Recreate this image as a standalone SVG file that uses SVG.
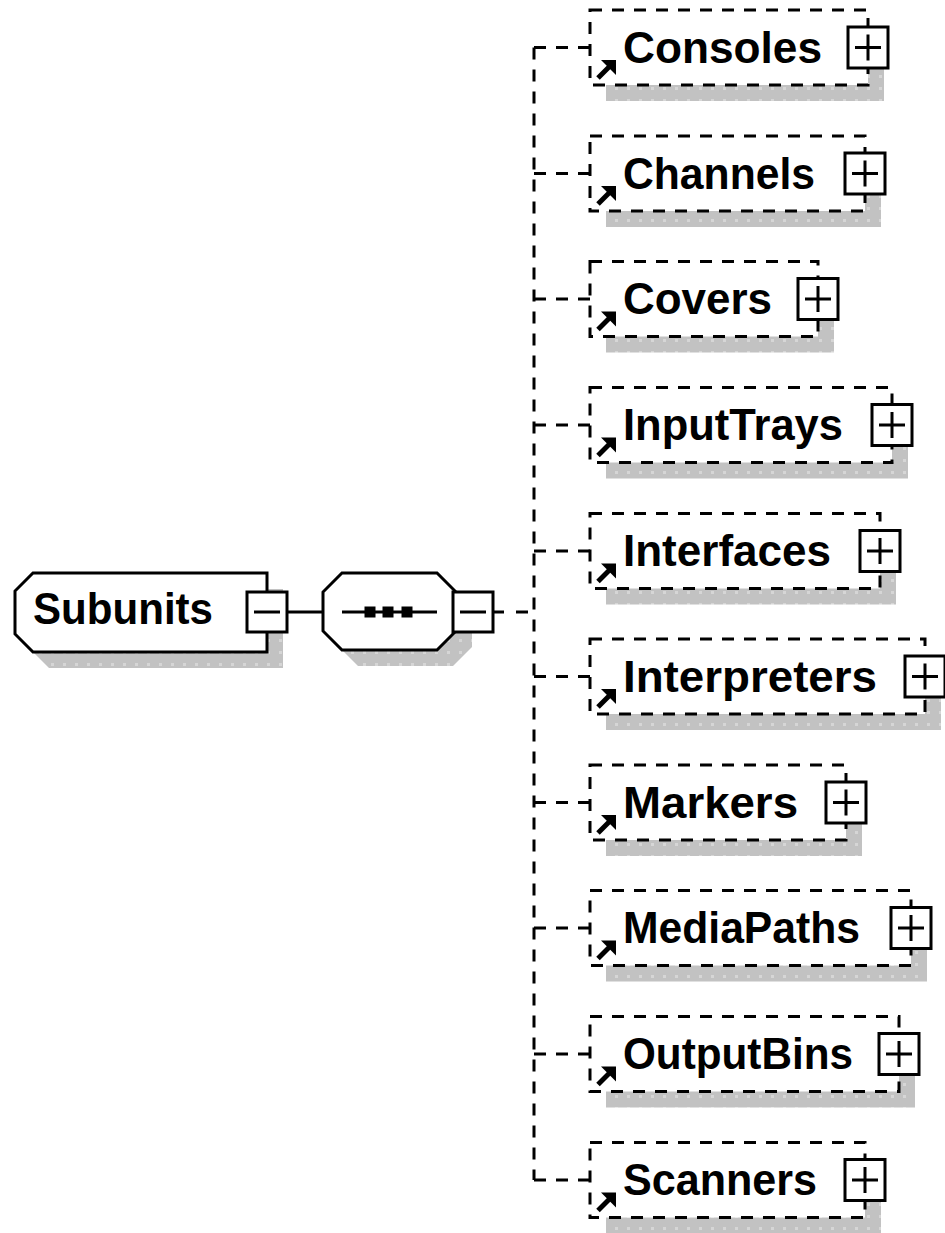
<svg xmlns="http://www.w3.org/2000/svg" xmlns:xlink="http://www.w3.org/1999/xlink" width="945" height="1233" viewBox="0 0 945 1233">
<style>
.shadow{fill:url(#dots);stroke:none}
.solid{fill:#fff;stroke:#000;stroke-width:3}
.opt{fill:#fff;stroke:#000;stroke-width:3;stroke-dasharray:12 10}
.conn{fill:none;stroke:#000;stroke-width:3}
.dash{fill:none;stroke:#000;stroke-width:3;stroke-dasharray:12 10}
.lbl{font-family:"Liberation Sans",Arial,sans-serif;font-weight:bold;font-size:44px;fill:#000}
</style>
<defs>
<pattern id="dots" patternUnits="userSpaceOnUse" width="12" height="12">
<rect width="12" height="12" fill="#c2c2c2"/>
<rect x="3" y="3" width="3" height="3" fill="#d6d6d6"/>
</pattern>
<g id="plus">
<rect x="-20" y="-20.5" width="40" height="41" fill="#fff" stroke="#000" stroke-width="3"/>
<path d="M-13 0H13M0 -13V13" stroke="#000" stroke-width="3"/>
</g>
<g id="minus">
<rect x="-20" y="-20" width="40" height="40" fill="#fff" stroke="#000" stroke-width="3"/>
<path d="M-13 0H13" stroke="#000" stroke-width="3"/>
</g>
<g id="refArrow">
<path d="M8 -7L20 -19" stroke="#000" stroke-width="5"/>
<polygon points="11,-25 26,-25 26,-10" fill="#000"/>
</g>
</defs>
<rect width="945" height="1233" fill="#fff"/>

<g id="connectors">
<path class="conn" d="M287 612H323"/>
<path class="conn" d="M493 612H504"/>
<path class="dash" d="M516 612H534"/>
<path class="dash" d="M534 47.5V1180"/>
<path class="dash" d="M534 47.5H590M534 173.5H590M534 299H590M534 425H590M534 551H590M534 676.5H590M534 802.5H590M534 928H590M534 1054H590M534 1180H590"/>
</g>

<g id="node-subunits">
<polygon class="shadow" points="49,589 283,589 283,668 49,668 31,650 31,607"/>
<polygon class="solid" points="33,573 267,573 267,652 33,652 15,634 15,591"/>
<text class="lbl" x="33" y="624" textLength="180" lengthAdjust="spacingAndGlyphs">Subunits</text>
<use xlink:href="#minus" x="267" y="612"/>
</g>

<g id="node-sequence">
<polygon class="shadow" points="358,589 453,589 472,608 472,647 453,666 358,666 339,647 339,608"/>
<polygon class="solid" points="342,573 437,573 456,592 456,631 437,650 342,650 323,631 323,592"/>
<path d="M342 612H437" stroke="#000" stroke-width="3"/>
<rect x="364.5" y="606.5" width="11" height="11" fill="#000"/>
<rect x="382.5" y="606.5" width="11" height="11" fill="#000"/>
<rect x="401.5" y="606.5" width="11" height="11" fill="#000"/>
<use xlink:href="#minus" x="473" y="612"/>
</g>

<g id="node-consoles">
<rect class="shadow" x="606" y="26" width="278" height="75"/>
<rect class="opt" x="590" y="10" width="278" height="75"/>
<use xlink:href="#refArrow" x="590" y="85"/>
<text class="lbl" x="623" y="62.5" textLength="199" lengthAdjust="spacingAndGlyphs">Consoles</text>
<use xlink:href="#plus" x="868" y="47.5"/>
</g>

<g id="node-channels">
<rect class="shadow" x="606" y="152" width="275" height="75"/>
<rect class="opt" x="590" y="136" width="275" height="75"/>
<use xlink:href="#refArrow" x="590" y="211"/>
<text class="lbl" x="623" y="188.5" textLength="192" lengthAdjust="spacingAndGlyphs">Channels</text>
<use xlink:href="#plus" x="865" y="173.5"/>
</g>

<g id="node-covers">
<rect class="shadow" x="606" y="277.5" width="228" height="75"/>
<rect class="opt" x="590" y="261.5" width="228" height="75"/>
<use xlink:href="#refArrow" x="590" y="336.5"/>
<text class="lbl" x="623" y="314" textLength="149" lengthAdjust="spacingAndGlyphs">Covers</text>
<use xlink:href="#plus" x="818" y="299"/>
</g>

<g id="node-inputtrays">
<rect class="shadow" x="606" y="403.5" width="302" height="75"/>
<rect class="opt" x="590" y="387.5" width="302" height="75"/>
<use xlink:href="#refArrow" x="590" y="462.5"/>
<text class="lbl" x="623" y="440" textLength="220" lengthAdjust="spacingAndGlyphs">InputTrays</text>
<use xlink:href="#plus" x="892" y="425"/>
</g>

<g id="node-interfaces">
<rect class="shadow" x="606" y="529.5" width="290" height="75"/>
<rect class="opt" x="590" y="513.5" width="290" height="75"/>
<use xlink:href="#refArrow" x="590" y="588.5"/>
<text class="lbl" x="623" y="566" textLength="208" lengthAdjust="spacingAndGlyphs">Interfaces</text>
<use xlink:href="#plus" x="880" y="551"/>
</g>

<g id="node-interpreters">
<rect class="shadow" x="606" y="655" width="335" height="75"/>
<rect class="opt" x="590" y="639" width="335" height="75"/>
<use xlink:href="#refArrow" x="590" y="714"/>
<text class="lbl" x="623" y="691.5" textLength="254" lengthAdjust="spacingAndGlyphs">Interpreters</text>
<use xlink:href="#plus" x="925" y="676.5"/>
</g>

<g id="node-markers">
<rect class="shadow" x="606" y="781" width="256" height="75"/>
<rect class="opt" x="590" y="765" width="256" height="75"/>
<use xlink:href="#refArrow" x="590" y="840"/>
<text class="lbl" x="623" y="817.5" textLength="175" lengthAdjust="spacingAndGlyphs">Markers</text>
<use xlink:href="#plus" x="846" y="802.5"/>
</g>

<g id="node-mediapaths">
<rect class="shadow" x="606" y="906.5" width="321" height="75"/>
<rect class="opt" x="590" y="890.5" width="321" height="75"/>
<use xlink:href="#refArrow" x="590" y="965.5"/>
<text class="lbl" x="623" y="943" textLength="237" lengthAdjust="spacingAndGlyphs">MediaPaths</text>
<use xlink:href="#plus" x="911" y="928"/>
</g>

<g id="node-outputbins">
<rect class="shadow" x="606" y="1032.5" width="309" height="75"/>
<rect class="opt" x="590" y="1016.5" width="309" height="75"/>
<use xlink:href="#refArrow" x="590" y="1091.5"/>
<text class="lbl" x="623" y="1069" textLength="230" lengthAdjust="spacingAndGlyphs">OutputBins</text>
<use xlink:href="#plus" x="899" y="1054"/>
</g>

<g id="node-scanners">
<rect class="shadow" x="606" y="1158.5" width="275" height="75"/>
<rect class="opt" x="590" y="1142.5" width="275" height="75"/>
<use xlink:href="#refArrow" x="590" y="1217.5"/>
<text class="lbl" x="623" y="1195" textLength="194" lengthAdjust="spacingAndGlyphs">Scanners</text>
<use xlink:href="#plus" x="865" y="1180"/>
</g>
</svg>
